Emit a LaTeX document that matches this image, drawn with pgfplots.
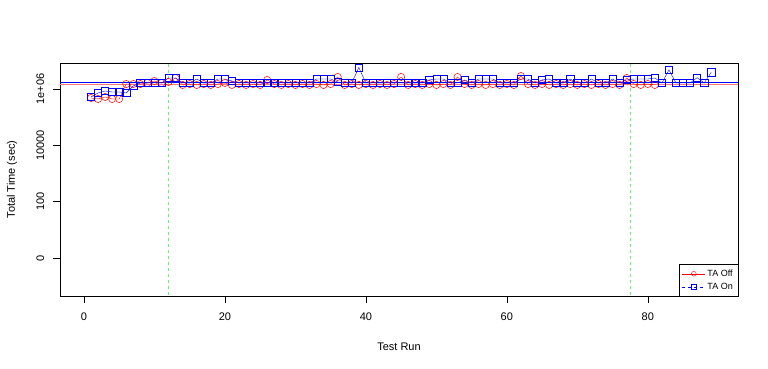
\documentclass[border=0pt]{standalone}
\usepackage{fontspec}
\setmainfont{Liberation Sans}
\usepackage{pgfplots}
\pgfplotsset{compat=1.18}
\definecolor{rgreen}{RGB}{110,240,110}
\begin{document}
\fontsize{11}{13}\selectfont
\begin{tikzpicture}
\path[use as bounding box] (-60pt,-73pt) rectangle (708pt,296pt);
\begin{axis}[
  at={(0,0)}, anchor=south west,
  scale only axis, width=678pt, height=233pt,
  xmin=-3.4, xmax=92.8,
  ymode=log, ymin=0.0448, ymax=8.36e6,
  xtick={0,20,40,60,80},
  ytick={1,100,10000,1000000},
  yticklabels={0,100,10000,1e+06},
  minor ytick={}, minor xtick={},
  tick align=outside, major tick length=7pt,
  xtick pos=left, ytick pos=left,
  tick style={black, line width=0.4pt},
  axis line style={black, line width=0.6pt},
  /pgf/number format/assume math mode=true,
  ticklabel style={font=\fontsize{11}{13}\selectfont},
  yticklabel style={rotate=90, anchor=south, yshift=5pt},
  xticklabel style={yshift=-6pt},
  xlabel={Test Run}, ylabel={Total Time (sec)},
  label style={font=\fontsize{11}{13}\selectfont},
  xlabel style={at={(axis description cs:0.5,-0.219)}, anchor=center},
  ylabel style={at={(axis description cs:-0.0708,0.5)}, anchor=center},
  legend style={at={(rel axis cs:1,0)}, anchor=south east, font=\fontsize{9}{11}\selectfont, draw=black, line width=0.5pt, inner xsep=3pt, inner ysep=3pt, row sep=1pt},
  legend cell align=left,
  legend image code/.code={\draw[mark repeat=2,mark phase=2] plot coordinates {(0cm,0cm)(0.4cm,0cm)(0.8cm,0cm)};},
  clip=true,
]
\addlegendimage{red, mark=o, mark size=2.4pt, line width=0.4pt}
\addlegendentry{TA Off}
\addlegendimage{blue, dashed, mark=square, mark size=2.2pt, line width=0.4pt, mark options={solid}}
\addlegendentry{TA On}
\addplot[rgreen, dashed, line width=0.6pt, forget plot] coordinates {(12,0.001)(12,1e8)};
\addplot[rgreen, dashed, line width=0.6pt, forget plot] coordinates {(77.5,0.001)(77.5,1e8)};
\addplot[red!55, line width=1.3pt, forget plot] coordinates {(-10,1450000)(100,1450000)};
\addplot[blue, line width=0.6pt, forget plot] coordinates {(-10,1770000)(100,1770000)};
\addplot[red, line width=0.4pt, mark=o, mark size=3.6pt, mark options={line width=0.5pt}, forget plot] coordinates {
(1,479000)(2,442000)(3,520000)(4,442000)(5,442000)(6,1500000)(7,1500000)(8,1500000)(9,1630000)(10,1920000)
(11,1630000)(12,1770000)(13,2460000)(14,1390000)(15,1500000)(16,1390000)(17,1500000)(18,1390000)(19,1500000)(20,1630000)
(21,1390000)(22,1500000)(23,1390000)(24,1500000)(25,1390000)(26,2090000)(27,1500000)(28,1390000)(29,1500000)(30,1390000)
(31,1500000)(32,1390000)(33,1500000)(34,1390000)(35,1500000)(36,2670000)(37,1390000)(38,1500000)(39,1390000)(40,1500000)
(41,1390000)(42,1500000)(43,1390000)(44,1500000)(45,2670000)(46,1390000)(47,1500000)(48,1390000)(49,1500000)(50,1390000)
(51,1500000)(52,1390000)(53,2670000)(54,1500000)(55,1390000)(56,1500000)(57,1390000)(58,1500000)(59,1390000)(60,1500000)
(61,1390000)(62,2890000)(63,1500000)(64,1390000)(65,1500000)(66,1390000)(67,1500000)(68,1390000)(69,1500000)(70,1390000)
(71,1500000)(72,1390000)(73,1500000)(74,1390000)(75,1500000)(76,1390000)(77,2460000)(78,1500000)(79,1390000)(80,1500000)
(81,1390000)
};
\addplot[blue, line width=0.4pt, mark=square, mark size=3.6pt, mark options={line width=0.5pt}, forget plot] coordinates {
(1,520000)(2,721000)(3,849000)(4,782000)(5,782000)(6,721000)(7,1280000)(8,1630000)(9,1630000)(10,1670000)
(11,1630000)(12,2460000)(13,2460000)(14,1630000)(15,1630000)(16,2260000)(17,1630000)(18,1630000)(19,2260000)(20,2260000)
(21,1920000)(22,1630000)(23,1630000)(24,1630000)(25,1630000)(26,1630000)(27,1630000)(28,1630000)(29,1630000)(30,1630000)
(31,1630000)(32,1630000)(33,2260000)(34,2260000)(35,2260000)(36,1770000)(37,1630000)(38,1630000)(39,5800000)(40,1630000)
(41,1630000)(42,1630000)(43,1630000)(44,1630000)(45,1630000)(46,1630000)(47,1630000)(48,1630000)(49,2090000)(50,2260000)
(51,2260000)(52,1630000)(53,1630000)(54,2090000)(55,1630000)(56,2260000)(57,2260000)(58,2260000)(59,1630000)(60,1630000)
(61,1630000)(62,2260000)(63,2260000)(64,1630000)(65,2090000)(66,2260000)(67,1630000)(68,1630000)(69,2260000)(70,1630000)
(71,1630000)(72,2260000)(73,1630000)(74,1630000)(75,2260000)(76,1630000)(77,2090000)(78,2260000)(79,2260000)(80,2260000)
(81,2460000)(82,1630000)(83,4730000)(84,1630000)(85,1630000)(86,1630000)(87,2520000)(88,1630000)(89,3920000)
};
\end{axis}
\end{tikzpicture}
\end{document}
